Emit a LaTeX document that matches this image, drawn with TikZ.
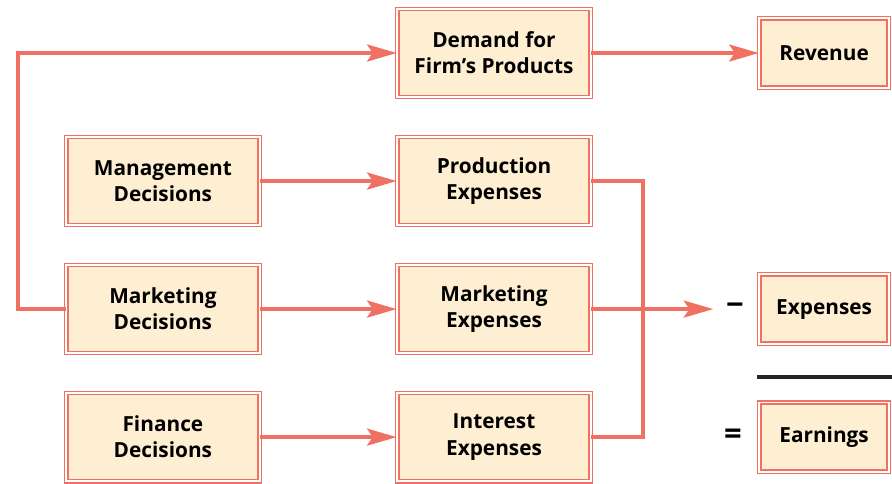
\documentclass[tikz,border=0pt]{standalone}
\usepackage{fontspec}
\setmainfont{Open Sans}
\usepackage{tikz}
\usetikzlibrary{arrows.meta}
\definecolor{salmonline}{RGB}{240,112,98}
\definecolor{boxfill}{RGB}{254,239,210}

\begin{document}
\begin{tikzpicture}[x=0.025cm,y=-0.025cm,>={Stealth[length=21pt,width=12pt,inset=4pt]},
  node distance=3.2cm,
  box node/.style={rectangle,fill=boxfill,draw=salmonline,double=white,line width=1pt,
    double distance=1.4pt,align=center,minimum width=4.83cm,minimum height=2.2cm,
    font=\bfseries\fontsize{14.8}{18.6}\selectfont},
  result node/.style={box node,minimum width=3.23cm,minimum height=1.73cm},
  sign node/.style={inner sep=0pt,font=\bfseries\fontsize{22}{22}\selectfont},
  link/.style={draw=salmonline,line width=2.85pt}]
  \useasboundingbox (0,0) rectangle (892,483);

  \node[box node] (demand) at (494,53) {Demand for\\Firm’s Products};
  \node[box node] (prod) [below of=demand] {Production\\Expenses};
  \node[box node] (mkte) [below of=prod] {Marketing\\Expenses};
  \node[box node] (int) [below of=mkte] {Interest\\Expenses};
  \node[box node] (mgmt) [left of=prod,node distance=8.275cm] {Management\\Decisions};
  \node[box node] (mktd) [left of=mkte,node distance=8.275cm] {Marketing\\Decisions};
  \node[box node] (fin) [left of=int,node distance=8.275cm] {Finance\\Decisions};
  \node[result node] (rev) [right of=demand,node distance=8.25cm] {Revenue};
  \node[result node] (exp) [right of=mkte,node distance=8.25cm] {Expenses};
  \node[result node] (earn) [right of=int,node distance=8.25cm] {Earnings};
  \node[sign node] (minus) [left of=exp,node distance=2.225cm] {−};
  \node[sign node] (equals) [left of=earn,node distance=2.275cm] {=};
  \coordinate (rulestart) at (757,377);
  \coordinate (ruleend) at (892,377);

  \draw[link,->] (demand) -- (rev);
  \draw[link,->] (mgmt) -- (prod);
  \draw[link,->] (mktd) -- (mkte);
  \draw[link,->] (fin) -- (int);
  \draw[link,->] (mkte.east) -- ++(122,0);
  \draw[link,->] (mktd.west) -- ++(-48,0) |- (demand.west);
  \draw[link] (prod.east) -- ++(52,0) |- (int.east);
  \draw[line width=2.85pt,black!85] (rulestart) -- (ruleend);
\end{tikzpicture}
\end{document}
